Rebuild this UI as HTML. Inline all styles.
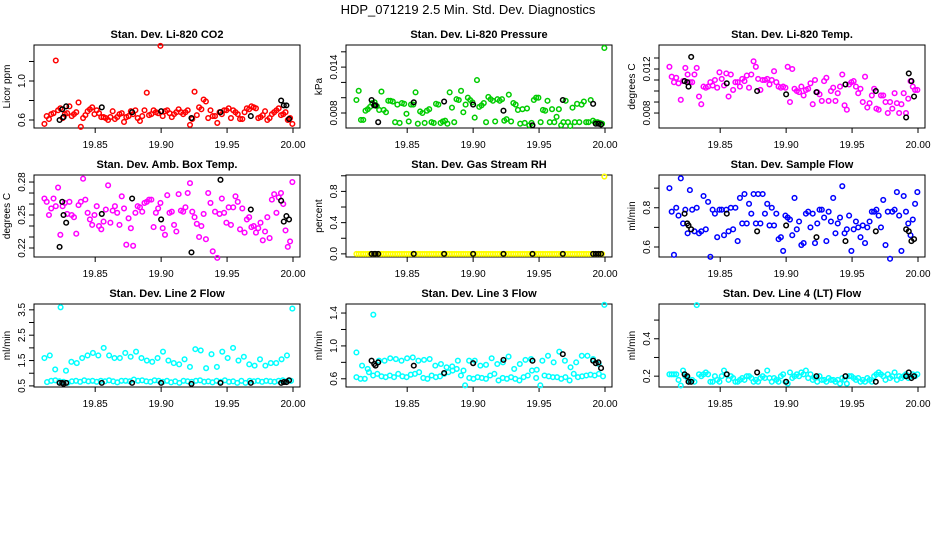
<!DOCTYPE html>
<html><head><meta charset="utf-8"><style>
html,body{margin:0;padding:0;background:#fff;}
svg{display:block;font-family:"Liberation Sans",sans-serif;}
</style></head><body>
<svg id="chart" width="936" height="540" viewBox="0 0 936 540">
<text x="468" y="14" text-anchor="middle" font-size="13">HDP_071219  2.5 Min. Std. Dev. Diagnostics</text>
</svg>
<script>
const xTicks=[19.85,19.90,19.95,20.00];
const xTickLabels=["19.85","19.90","19.95","20.00"];
const blackTimes=[19.823,19.825,19.826,19.828,19.855,19.878,19.900,19.923,19.945,19.968,19.991,19.993,19.995,19.997];

const co2Vals=[0.56,0.64,0.61,0.66,0.67,1.21,0.70,0.72,0.62,0.66,0.67,0.74,0.64,0.66,0.68,0.78,0.53,0.62,0.65,0.69,0.71,0.73,0.66,0.70,0.67,0.63,0.63,0.62,0.60,0.63,0.69,0.61,0.63,0.66,0.67,0.58,0.63,0.64,0.69,0.66,0.70,0.62,0.59,0.64,0.70,0.88,0.65,0.66,0.70,0.68,0.67,1.36,0.64,0.69,0.70,0.67,0.63,0.66,0.68,0.71,0.68,0.66,0.68,0.70,0.55,0.61,0.89,0.65,0.73,0.71,0.81,0.79,0.62,0.70,0.64,0.64,0.57,0.68,0.66,0.70,0.70,0.72,0.62,0.70,0.68,0.66,0.61,0.61,0.68,0.72,0.71,0.74,0.73,0.72,0.62,0.63,0.65,0.69,0.60,0.62,0.66,0.68,0.70,0.72,0.65,0.66,0.68,0.60,0.62,0.56];
const co2Black=[0.60,0.71,0.63,0.74,0.73,0.68,0.69,0.62,0.68,0.64,0.80,0.75,0.75,0.61];

const presVals=[0.0097,0.0109,0.0071,0.0071,0.0083,0.0085,0.0088,0.0093,0.0094,0.0089,0.0084,0.0108,0.0084,0.0081,0.0096,0.0096,0.0095,0.0068,0.0091,0.0067,0.0093,0.0092,0.0079,0.0069,0.0091,0.0091,0.0107,0.0066,0.0082,0.0080,0.0067,0.0083,0.0085,0.0068,0.0067,0.0092,0.0091,0.0067,0.0069,0.0070,0.0066,0.0107,0.0087,0.0068,0.0098,0.0097,0.0109,0.0081,0.0091,0.0100,0.0097,0.0094,0.0074,0.0123,0.0088,0.0090,0.0093,0.0068,0.0101,0.0098,0.0096,0.0069,0.0098,0.0096,0.0098,0.0070,0.0072,0.0104,0.0069,0.0093,0.0091,0.0084,0.0066,0.0085,0.0067,0.0086,0.0064,0.0067,0.0097,0.0100,0.0100,0.0068,0.0084,0.0083,0.0096,0.0068,0.0085,0.0068,0.0075,0.0085,0.0064,0.0068,0.0096,0.0068,0.0063,0.0087,0.0068,0.0092,0.0068,0.0091,0.0095,0.0068,0.0068,0.0097,0.0070,0.0068,0.0068,0.0067,0.0066,0.0165];
const presBlack=[0.0097,0.0090,0.0090,0.0068,0.0094,0.0095,0.0091,0.0083,0.0064,0.0097,0.0092,0.0066,0.0066,0.0065];

const tempVals=[0.0122,0.0113,0.0108,0.0112,0.0107,0.0092,0.0109,0.0121,0.0115,0.0108,0.0108,0.0115,0.0121,0.0095,0.0088,0.0104,0.0103,0.0104,0.0108,0.0105,0.0110,0.0103,0.0117,0.0111,0.0105,0.0116,0.0095,0.0115,0.0101,0.0108,0.0108,0.0104,0.0111,0.0109,0.0114,0.0103,0.0115,0.0127,0.0122,0.0111,0.0101,0.0110,0.0110,0.0111,0.0106,0.0110,0.0118,0.0108,0.0104,0.0103,0.0104,0.0103,0.0122,0.0090,0.0120,0.0102,0.0100,0.0099,0.0104,0.0096,0.0101,0.0102,0.0107,0.0088,0.0110,0.0099,0.0097,0.0091,0.0109,0.0112,0.0091,0.0100,0.0103,0.0091,0.0098,0.0104,0.0115,0.0087,0.0083,0.0106,0.0108,0.0109,0.0104,0.0098,0.0102,0.0090,0.0113,0.0085,0.0089,0.0096,0.0102,0.0084,0.0083,0.0096,0.0096,0.0090,0.0080,0.0090,0.0084,0.0098,0.0089,0.0080,0.0088,0.0098,0.0080,0.0093,0.0109,0.0104,0.0101,0.0101];
const tempBlack=[0.0109,0.0108,0.0104,0.0131,0.0107,0.0100,0.0097,0.0099,0.0106,0.0100,0.0076,0.0116,0.0109,0.0095];

const ambVals=[0.265,0.262,0.250,0.256,0.265,0.258,0.275,0.232,0.258,0.261,0.251,0.262,0.250,0.248,0.233,0.259,0.262,0.283,0.264,0.252,0.246,0.241,0.250,0.258,0.240,0.237,0.244,0.255,0.277,0.243,0.254,0.258,0.252,0.241,0.267,0.256,0.223,0.247,0.238,0.222,0.252,0.258,0.257,0.253,0.261,0.262,0.264,0.264,0.239,0.252,0.256,0.261,0.238,0.232,0.268,0.252,0.253,0.241,0.235,0.269,0.254,0.253,0.257,0.270,0.279,0.253,0.248,0.242,0.230,0.240,0.251,0.228,0.270,0.261,0.217,0.253,0.211,0.251,0.265,0.252,0.243,0.257,0.241,0.257,0.267,0.262,0.237,0.256,0.234,0.246,0.248,0.239,0.240,0.234,0.238,0.243,0.227,0.235,0.248,0.229,0.264,0.269,0.252,0.266,0.270,0.260,0.236,0.221,0.226,0.280];
const ambBlack=[0.221,0.262,0.250,0.243,0.251,0.265,0.246,0.216,0.282,0.255,0.263,0.244,0.249,0.246];

const rhVals=[0,0,0,0,0,0,0,0,0,0,0,0,0,0,0,0,0,0,0,0,0,0,0,0,0,0,0,0,0,0,0,0,0,0,0,0,0,0,0,0,0,0,0,0,0,0,0,0,0,0,0,0,0,0,0,0,0,0,0,0,0,0,0,0,0,0,0,0,0,0,0,0,0,0,0,0,0,0,0,0,0,0,0,0,0,0,0,0,0,0,0,0,0,0,0,0,0,0,0,0,0,0,0,0,0,0,0,0,0,0.99];
const rhBlack=[0,0,0,0,0,0,0,0,0,0,0,0,0,0];

const sampleVals=[0.90,0.78,0.56,0.80,0.76,0.95,0.72,0.79,0.67,0.89,0.79,0.68,0.80,0.67,0.68,0.86,0.69,0.83,0.55,0.79,0.77,0.65,0.79,0.79,0.66,0.79,0.68,0.80,0.69,0.80,0.63,0.85,0.72,0.87,0.72,0.82,0.77,0.87,0.72,0.87,0.72,0.87,0.77,0.82,0.71,0.80,0.71,0.77,0.64,0.65,0.58,0.76,0.75,0.74,0.66,0.85,0.69,0.73,0.61,0.62,0.77,0.78,0.70,0.77,0.62,0.72,0.79,0.79,0.75,0.63,0.78,0.73,0.85,0.67,0.72,0.75,0.91,0.67,0.69,0.76,0.58,0.69,0.73,0.70,0.65,0.71,0.62,0.70,0.73,0.78,0.78,0.79,0.76,0.70,0.84,0.61,0.78,0.54,0.78,0.79,0.88,0.76,0.58,0.86,0.78,0.72,0.66,0.74,0.82,0.88];
const sampleBlack=[0.77,0.72,0.71,0.69,0.77,0.68,0.71,0.65,0.63,0.68,0.69,0.68,0.63,0.64];

const line2High=[1.6,1.7,1.15,3.6,1.1,1.45,1.4,1.6,1.7,1.8,1.7,2.0,1.7,1.6,1.6,1.8,1.65,1.85,1.6,1.5,1.45,1.6,1.85,1.5,1.4,1.35,1.55,1.25,1.95,1.9,1.2,1.75,1.25,1.85,1.6,2.0,1.5,1.65,1.35,1.3,1.55,1.3,1.4,1.4,1.55,1.7,3.55];
const line2Low=[0.65,0.70,0.72,0.68,0.66,0.62,0.68,0.70,0.66,0.72,0.68,0.70,0.66,0.70,0.68,0.72,0.68,0.64,0.70,0.70,0.68,0.75,0.70,0.72,0.68,0.66,0.72,0.70,0.66,0.70,0.64,0.68,0.62,0.70,0.68,0.66,0.70,0.72,0.66,0.68,0.64,0.70,0.66,0.72,0.66,0.68,0.62,0.70,0.62,0.70,0.68,0.70,0.66,0.70,0.68,0.66,0.70,0.72,0.68,0.70];
const line2Black=[0.62,0.62,0.58,0.62,0.62,0.62,0.62,0.58,0.62,0.62,0.62,0.65,0.65,0.72];

const line3High=[0.92,0.76,0.72,1.38,0.82,0.82,0.85,0.84,0.82,0.85,0.86,0.82,0.83,0.84,0.76,0.78,0.74,0.75,0.82,0.70,0.82,0.82,0.76,0.77,0.85,0.78,0.80,0.87,0.72,0.78,0.83,0.84,0.71,0.82,0.88,0.80,0.93,0.82,0.74,0.80,0.88,0.88,0.84,0.78,1.50];
const line3Low=[0.62,0.60,0.60,0.68,0.64,0.66,0.63,0.62,0.64,0.62,0.66,0.63,0.62,0.65,0.66,0.68,0.61,0.60,0.64,0.62,0.63,0.66,0.68,0.70,0.72,0.64,0.52,0.61,0.60,0.62,0.61,0.60,0.64,0.66,0.58,0.61,0.60,0.62,0.60,0.58,0.62,0.64,0.70,0.61,0.52,0.64,0.63,0.62,0.62,0.60,0.62,0.58,0.66,0.62,0.63,0.64,0.65,0.64,0.66,0.63];
const line3Black=[0.82,0.78,0.76,0.80,0.76,0.67,0.79,0.83,0.82,0.90,0.82,0.79,0.80,0.73];

const line4Vals=[0.21,0.21,0.21,0.21,0.18,0.15,0.23,0.20,0.19,0.17,0.18,0.17,0.58,0.21,0.20,0.21,0.22,0.21,0.17,0.17,0.20,0.18,0.17,0.20,0.23,0.21,0.18,0.20,0.19,0.17,0.17,0.18,0.19,0.18,0.20,0.20,0.19,0.17,0.18,0.17,0.19,0.20,0.19,0.23,0.19,0.17,0.19,0.18,0.17,0.20,0.21,0.17,0.16,0.22,0.19,0.20,0.21,0.20,0.22,0.21,0.23,0.19,0.21,0.18,0.19,0.17,0.20,0.18,0.18,0.17,0.19,0.18,0.18,0.17,0.18,0.16,0.19,0.18,0.16,0.20,0.20,0.19,0.18,0.19,0.17,0.18,0.17,0.19,0.18,0.17,0.20,0.21,0.22,0.21,0.20,0.18,0.21,0.19,0.20,0.22,0.18,0.20,0.19,0.20,0.21,0.19,0.20,0.21,0.20,0.21];
const line4Black=[0.21,0.20,0.17,0.17,0.21,0.22,0.17,0.20,0.20,0.17,0.20,0.22,0.19,0.20];

const panels=[
 {name:"co2",title:"Stan. Dev. Li-820 CO2",ylab:"Licor ppm",col:0,row:0,ymin:0.518,ymax:1.369,ticks:[0.6,0.8,1.0,1.2],labels:{"0.6":"0.6","1":"1.0"},series:[{v:co2Vals,c:"#ff0000",a:19.8115,b:19.9995}],black:co2Black},
 {name:"pressure",title:"Stan. Dev. Li-820 Pressure",ylab:"kPa",col:1,row:0,ymin:0.00604,ymax:0.01689,ticks:[0.008,0.010,0.012,0.014,0.016],labels:{"0.008":"0.008","0.014":"0.014"},series:[{v:presVals,c:"#00cc00",a:19.8115,b:19.9995}],black:presBlack},
 {name:"temp",title:"Stan. Dev. Li-820 Temp.",ylab:"degrees C",col:2,row:0,ymin:0.00664,ymax:0.01418,ticks:[0.008,0.009,0.010,0.011,0.012,0.013],labels:{"0.008":"0.008","0.012":"0.012"},series:[{v:tempVals,c:"#ff00ff",a:19.8115,b:19.9995}],black:tempBlack},
 {name:"ambbox",title:"Stan. Dev. Amb. Box Temp.",ylab:"degrees C",col:0,row:1,ymin:0.2118,ymax:0.2864,ticks:[0.22,0.23,0.24,0.25,0.26,0.27,0.28],labels:{"0.22":"0.22","0.25":"0.25","0.28":"0.28"},series:[{v:ambVals,c:"#ff00ff",a:19.8115,b:19.9995}],black:ambBlack},
 {name:"rh",title:"Stan. Dev. Gas Stream RH",ylab:"percent",col:1,row:1,ymin:-0.04,ymax:1.01,ticks:[0,0.2,0.4,0.6,0.8,1.0],labels:{"0":"0.0","0.4":"0.4","0.8":"0.8"},series:[{v:rhVals,c:"#ffff00",a:19.8115,b:19.9995}],black:rhBlack},
 {name:"sample-flow",title:"Stan. Dev. Sample Flow",ylab:"ml/min",col:2,row:1,ymin:0.549,ymax:0.967,ticks:[0.6,0.7,0.8,0.9],labels:{"0.6":"0.6","0.8":"0.8"},series:[{v:sampleVals,c:"#0000ff",a:19.8115,b:19.9995}],black:sampleBlack},
 {name:"line2",title:"Stan. Dev. Line 2 Flow",ylab:"ml/min",col:0,row:2,ymin:0.457,ymax:3.73,ticks:[0.5,1.0,1.5,2.0,2.5,3.0,3.5],labels:{"0.5":"0.5","1.5":"1.5","2.5":"2.5","3.5":"3.5"},series:[{v:line2High,c:"#00ffff",a:19.8115,b:19.9995},{v:line2Low,c:"#00ffff",a:19.8135,b:19.9985}],black:line2Black},
 {name:"line3",title:"Stan. Dev. Line 3 Flow",ylab:"ml/min",col:1,row:2,ymin:0.5,ymax:1.51,ticks:[0.6,0.8,1.0,1.2,1.4],labels:{"0.6":"0.6","1":"1.0","1.4":"1.4"},series:[{v:line3High,c:"#00ffff",a:19.8115,b:19.9995},{v:line3Low,c:"#00ffff",a:19.8115,b:19.9985}],black:line3Black},
 {name:"line4",title:"Stan. Dev. Line 4 (LT) Flow",ylab:"ml/min",col:2,row:2,ymin:0.142,ymax:0.586,ticks:[0.2,0.3,0.4,0.5],labels:{"0.2":"0.2","0.4":"0.4"},series:[{v:line4Vals,c:"#00ffff",a:19.8115,b:19.9995}],black:line4Black}
];

const colLeft=[34,346,659], boxW=266;
const rowBox=[[45,128],[175,257],[304,387]];
const xMin=19.8036, xMax=20.0053;
const svg=document.getElementById('chart');
const NS="http://www.w3.org/2000/svg";
function mk(tag,attrs,parent){const e=document.createElementNS(NS,tag);for(const k in attrs)e.setAttribute(k,attrs[k]);(parent||svg).appendChild(e);return e;}
function fmt(t){return String(+t.toFixed(6));}

panels.forEach(p=>{
  const L=colLeft[p.col], T=rowBox[p.row][0], B=rowBox[p.row][1];
  const sx=x=>L+(x-xMin)/(xMax-xMin)*boxW;
  const sy=y=>B-(y-p.ymin)/(p.ymax-p.ymin)*(B-T);
  const g=mk('g',{});
  
  
  const t=mk('text',{x:L+boxW/2,y:T-7,'text-anchor':'middle','font-size':'11','font-weight':'bold'},g);
  t.textContent=p.title;
  
  
  const box=mk('rect',{x:L,y:T,width:boxW,height:B-T,fill:'none',stroke:'#000','stroke-width':1},g);
  
  
  // y ticks
  p.ticks.forEach(v=>{
    const y=sy(v);
    const tk=mk('line',{x1:L-5,x2:L,y1:y,y2:y,stroke:'#000'},g);
    
    
    const lab=p.labels[fmt(v)];
    if(lab){
      const tx=mk('text',{x:L-9,y:y,'text-anchor':'middle','font-size':'10',transform:`rotate(-90 ${L-9} ${y})`},g);
      tx.textContent=lab;
      
      
    }
  });
  const yl=mk('text',{x:L-24,y:(T+B)/2,'text-anchor':'middle','font-size':'10',transform:`rotate(-90 ${L-24} ${(T+B)/2})`},g);
  yl.textContent=p.ylab;
  
  
  // x ticks
  xTicks.forEach((v,i)=>{
    const x=sx(v);
    const tk=mk('line',{x1:x,x2:x,y1:B,y2:B+5,stroke:'#000'},g);
    
    
    const tx=mk('text',{x:x,y:B+20,'text-anchor':'middle','font-size':'10'},g);
    tx.textContent=xTickLabels[i];
    
    
  });
  // series
  p.series.forEach(s=>{
    const n=s.v.length;
    s.v.forEach((v,i)=>{
      const xv=s.a+(s.b-s.a)*i/(n-1);
      const c=mk('circle',{cx:sx(xv),cy:sy(v),r:2.3,fill:'none',stroke:s.c,'stroke-width':1.5},g);
      
      
    });
  });
  p.black.forEach((v,i)=>{
    const c=mk('circle',{cx:sx(blackTimes[i]),cy:sy(v),r:2.3,fill:'none',stroke:'#000','stroke-width':1.5},g);
    
    
  });
});
</script>
</body></html>
